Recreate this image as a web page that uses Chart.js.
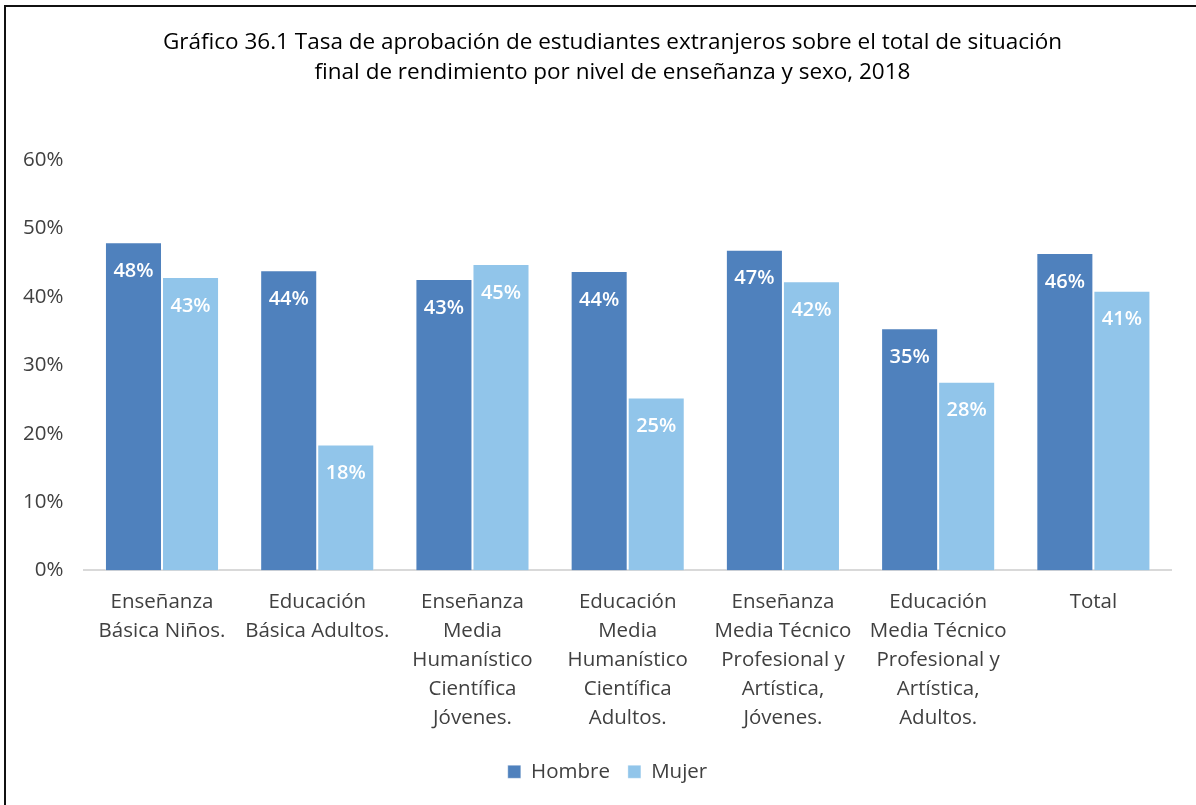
<!DOCTYPE html>
<html>
<head>
<meta charset="utf-8">
<script src="https://cdn.jsdelivr.net/npm/chart.js@4"></script>
<style>
  html, body { margin: 0; padding: 0; background: #fff; }
  #wrap { position: relative; width: 1196px; height: 805px; overflow: hidden; }
  #frame { position: absolute; left: 4px; top: 5px; width: 1300px; height: 900px;
           border-left: 2px solid #111; border-top: 2px solid #111; }
  canvas { position: absolute; left: 0; top: 0; }
</style>
</head>
<body>
<div id="wrap">
  <div id="frame"></div>
  <canvas id="c" width="1196" height="805"></canvas>
</div>
<script>
const FONT = "'Open Sans', sans-serif";

const titleLines = [
  "Gráfico 36.1 Tasa de aprobación de estudiantes extranjeros sobre el total de situación",
  "final de rendimiento por nivel de enseñanza y sexo, 2018"
];
const categories = [
  ["Enseñanza", "Básica Niños."],
  ["Educación", "Básica Adultos."],
  ["Enseñanza", "Media", "Humanístico", "Científica", "Jóvenes."],
  ["Educación", "Media", "Humanístico", "Científica", "Adultos."],
  ["Enseñanza", "Media Técnico", "Profesional y", "Artística,", "Jóvenes."],
  ["Educación", "Media Técnico", "Profesional y", "Artística,", "Adultos."],
  ["Total"]
];
const seriesNames = ["Hombre", "Mujer"];
const hombre = [48.0, 43.9, 42.6, 43.8, 46.9, 35.4, 46.4];
const mujer  = [42.9, 18.4, 44.8, 25.3, 42.3, 27.6, 40.9];
const yTicks = [0, 10, 20, 30, 40, 50, 60];

const labelPlugin = {
  id: 'barLabels',
  afterDatasetsDraw(chart) {
    const ctx = chart.ctx;
    ctx.save();
    ctx.font = "600 20px " + FONT;
    ctx.fillStyle = "#ffffff";
    ctx.textAlign = "center";
    ctx.textBaseline = "middle";
    chart.data.datasets.forEach((ds, di) => {
      const meta = chart.getDatasetMeta(di);
      meta.data.forEach((bar, i) => {
        ctx.fillText(Math.round(ds.data[i]) + "%", bar.x, bar.y + 29);
      });
    });
    ctx.restore();
  }
};

const boxShift = {
  id: 'boxShift',
  afterLayout(chart) {
    if (chart.legend) { chart.legend.left += 17; chart.legend.right += 17; }
    if (chart.titleBlock) { chart.titleBlock.left += 22; chart.titleBlock.right += 22; }
  }
};

new Chart(document.getElementById('c'), {
  type: 'bar',
  data: {
    labels: categories,
    datasets: [
      { label: seriesNames[0], data: hombre, backgroundColor: '#4F81BD',
        borderColor: 'rgba(255,255,255,0.35)', borderWidth: 1, borderSkipped: 'bottom' },
      { label: seriesNames[1], data: mujer, backgroundColor: '#91C5EA',
        borderColor: 'rgba(255,255,255,0.35)', borderWidth: 1, borderSkipped: 'bottom' }
    ]
  },
  plugins: [labelPlugin, boxShift],
  options: {
    responsive: false,
    animation: false,
    devicePixelRatio: 1,
    layout: { padding: { left: 10, right: 25, top: 28, bottom: 13 } },
    datasets: { bar: { categoryPercentage: 0.735, barPercentage: 1.0 } },
    plugins: {
      title: {
        display: true, text: titleLines, color: '#000',
        font: { family: FONT, size: 22.5, lineHeight: 1.335, weight: 'normal' },
        padding: { top: 0, bottom: 72 }
      },
      legend: {
        position: 'bottom',
        labels: {
          boxWidth: 13, boxHeight: 13, color: '#404040', padding: 18,
          font: { family: FONT, size: 20.5 }
        }
      },
      tooltip: { enabled: false }
    },
    scales: {
      x: {
        grid: { display: false },
        border: { display: true, color: '#D9D9D9', width: 2 },
        afterFit(scale) { scale.height += 2; },
        ticks: { color: '#404040', font: { family: FONT, size: 20.5, lineHeight: 1.415 }, padding: 9, maxRotation: 0, autoSkip: false }
      },
      y: {
        min: 0, max: 60,
        afterBuildTicks(scale) { scale.ticks = yTicks.map(v => ({ value: v })); },
        grid: { display: false },
        border: { display: false },
        ticks: { color: '#404040', font: { family: FONT, size: 20.5 }, padding: 13,
                 callback: v => v + '%' }
      }
    }
  }
});
</script>
</body>
</html>
